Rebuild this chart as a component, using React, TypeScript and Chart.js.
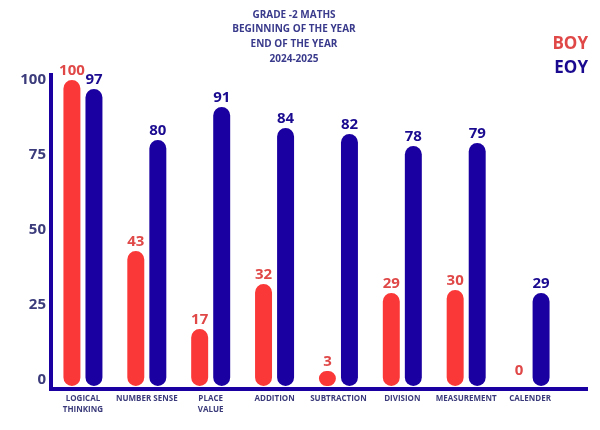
import React, { useEffect, useRef } from "react";
import { Chart, registerables } from "chart.js";

Chart.register(...registerables);

// Strand names along the bottom
const categories: (string | string[])[] = [
  ["LOGICAL", "THINKING"],
  "NUMBER SENSE",
  ["PLACE", "VALUE"],
  "ADDITION",
  "SUBTRACTION",
  "DIVISION",
  "MEASUREMENT",
  "CALENDER",
];

// Beginning-of-year and end-of-year scores
const boyScores = [100, 43, 17, 32, 3, 29, 30, 0];
const eoyScores = [97, 80, 91, 84, 82, 78, 79, 29];

const yTicks = [0, 25, 50, 75, 100];

const titleLines = ["GRADE -2 MATHS", "BEGINNING OF THE YEAR", "END OF THE YEAR", "2024-2025"];

const FONT = "'Open Sans', 'DejaVu Sans', sans-serif";
const BOY_BAR = "#fb3838";
const EOY_BAR = "#1a00a0";
const BOY_TEXT = "#e04848";
const EOY_TEXT = "#1a0a90";
const AXIS_TEXT = "#3b3b7b";

// Title block, legend words, axis lines and value labels
const decorPlugin = {
  id: "decor",
  afterDraw(chart: any) {
    const ctx = chart.ctx;
    const area = chart.chartArea;
    ctx.save();

    // title
    ctx.fillStyle = "#3a3a8c";
    ctx.font = `bold 10px ${FONT}`;
    ctx.textAlign = "center";
    ctx.textBaseline = "middle";
    titleLines.forEach((line, i) => ctx.fillText(line, 294, 15 + i * 14.6));

    // legend words
    ctx.font = `bold 17px ${FONT}`;
    ctx.textAlign = "right";
    chart.data.datasets.forEach((ds: any, i: number) => {
      ctx.fillStyle = ds.labelColor;
      ctx.fillText(ds.label, 588, 44 + i * 24);
    });

    // axis lines
    ctx.strokeStyle = EOY_BAR;
    ctx.lineWidth = 4;
    ctx.beginPath();
    ctx.moveTo(area.left, area.top);
    ctx.lineTo(area.left, area.bottom + 2);
    ctx.moveTo(area.left - 2, area.bottom);
    ctx.lineTo(588, area.bottom);
    ctx.stroke();

    // value labels above each bar
    ctx.font = `bold 15px ${FONT}`;
    ctx.textAlign = "center";
    ctx.textBaseline = "alphabetic";
    chart.data.datasets.forEach((ds: any, di: number) => {
      const meta = chart.getDatasetMeta(di);
      ctx.fillStyle = ds.labelColor;
      meta.data.forEach((el: any, i: number) => {
        ctx.fillText(String(ds.data[i]), el.x, el.y - 5);
      });
    });

    ctx.restore();
  },
};

export default function App() {
  const canvasRef = useRef<HTMLCanvasElement | null>(null);

  useEffect(() => {
    if (!canvasRef.current) return;
    const chart = new Chart(canvasRef.current, {
      type: "bar",
      data: {
        labels: categories,
        datasets: [
          {
            label: "BOY",
            data: boyScores,
            labelColor: BOY_TEXT,
            base: -2,
            backgroundColor: (c: any) => (c.raw === 0 ? "rgba(0,0,0,0)" : BOY_BAR),
            borderRadius: 20,
            borderSkipped: false,
            categoryPercentage: 0.69,
            barPercentage: 0.77,
          } as any,
          {
            label: "EOY",
            data: eoyScores,
            labelColor: EOY_TEXT,
            base: -2,
            backgroundColor: (c: any) => (c.raw === 0 ? "rgba(0,0,0,0)" : EOY_BAR),
            borderRadius: 20,
            borderSkipped: false,
            categoryPercentage: 0.69,
            barPercentage: 0.77,
          } as any,
        ],
      },
      options: {
        responsive: false,
        animation: false,
        layout: { padding: { top: 73, right: 38, left: 0, bottom: 0 } },
        plugins: {
          legend: { display: false },
          title: { display: false },
          tooltip: { enabled: false },
        },
        scales: {
          x: {
            grid: { display: false, drawTicks: false },
            border: { display: false },
            ticks: {
              color: AXIS_TEXT,
              font: { family: FONT, size: 8, weight: "bold", lineHeight: 1.3 },
              padding: 5,
              maxRotation: 0,
              autoSkip: false,
            },
            afterFit: (scale: any) => {
              scale.height = 41;
            },
          },
          y: {
            min: -3,
            max: 102.33,
            grid: { display: false, drawTicks: false },
            border: { display: false },
            afterBuildTicks: (scale: any) => {
              scale.ticks = yTicks.map((v) => ({ value: v }));
            },
            ticks: {
              color: AXIS_TEXT,
              font: { family: FONT, size: 15, weight: "bold" },
              padding: 5,
            },
            afterFit: (scale: any) => {
              scale.width = 51;
            },
          },
        },
      } as any,
      plugins: [decorPlugin],
    });
    return () => chart.destroy();
  }, []);

  return (
    <div style={{ position: "fixed", left: 0, top: 0, width: 600, height: 430, background: "#ffffff" }}>
      <canvas ref={canvasRef} width={600} height={430} style={{ display: "block" }} />
    </div>
  );
}
